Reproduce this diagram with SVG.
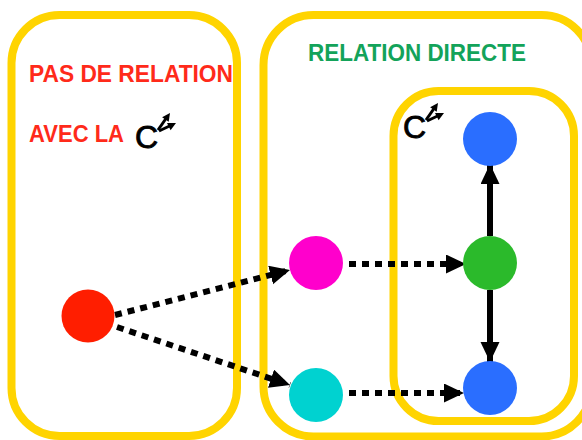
<svg xmlns="http://www.w3.org/2000/svg" xmlns:xlink="http://www.w3.org/1999/xlink" width="582" height="440" viewBox="0 0 582 440">
<style>
.box{fill:none;stroke:#FFD400;stroke-width:8}
.t{font-family:"Liberation Sans",Arial,sans-serif;font-weight:bold;font-size:23px}
.c{font-family:"Liberation Sans",Arial,sans-serif;font-size:32px;fill:#000;stroke:#000;stroke-width:0.9}
.dot{stroke:#000;stroke-width:6;stroke-dasharray:7 6;fill:none;marker-end:url(#ah)}
.solid{stroke:#000;stroke-width:6;fill:none;marker-end:url(#ah)}
.ic{stroke:#000;stroke-width:3;fill:none}
</style>
<defs>
<marker id="ah" markerUnits="userSpaceOnUse" markerWidth="22" markerHeight="20" refX="20" refY="9.5" orient="auto">
<path d="M0,0 L20,9.5 L0,19 z" fill="#000"/>
</marker>
<g id="icon">
<path class="ic" d="M21,-18 L29,-29.5"/>
<path d="M33,-35 L25.1,-30.8 L31.7,-26.2 z" fill="#000"/>
<path class="ic" d="M22,-17 L32.5,-22"/>
<path d="M39,-25 L30,-25 L33.6,-17.8 z" fill="#000"/>
</g>
</defs>
<g id="zone-left">
<rect class="box" x="11.5" y="15" width="225.5" height="421" rx="48"/>
<text class="t" x="29" y="82" fill="#FF2A1A" textLength="204" lengthAdjust="spacingAndGlyphs">PAS DE RELATION</text>
<text class="t" x="29" y="142" fill="#FF2A1A" textLength="95" lengthAdjust="spacingAndGlyphs">AVEC LA</text>
<text class="c" x="135" y="148">C</text>
<use xlink:href="#icon" href="#icon" transform="translate(137,148)"/>
</g>
<g id="zone-middle">
<rect class="box" x="263.5" y="15" width="328" height="421.5" rx="50"/>
<text class="t" x="308" y="61" fill="#13A35A" textLength="218" lengthAdjust="spacingAndGlyphs">RELATION DIRECTE</text>
</g>
<g id="zone-inner">
<rect class="box" x="393.5" y="91" width="180.5" height="330" rx="45"/>
<text class="c" x="403" y="138">C</text>
<use xlink:href="#icon" href="#icon" transform="translate(405,138)"/>
</g>
<g id="connectors">
<path class="dot" d="M115,315 L290,270"/>
<path class="dot" d="M117,327 L290,385"/>
<path class="dot" d="M349,264 L466,264"/>
<path class="dot" d="M349,393 L464,393"/>
<path class="solid" d="M490,236 L490,164"/>
<path class="solid" d="M490,290 L490,362"/>
</g>
<g id="node-red"><circle cx="88" cy="316" r="26.5" fill="#FF1E00"/></g>
<g id="node-magenta"><circle cx="316" cy="263" r="27" fill="#FF00CC"/></g>
<g id="node-cyan"><circle cx="316" cy="395" r="27" fill="#00D2D0"/></g>
<g id="node-green"><circle cx="490" cy="263" r="27" fill="#2BBA2B"/></g>
<g id="node-blue-top"><circle cx="490" cy="139" r="27" fill="#2A6EFF"/></g>
<g id="node-blue-bottom"><circle cx="490" cy="388" r="27" fill="#2A6EFF"/></g>
</svg>
